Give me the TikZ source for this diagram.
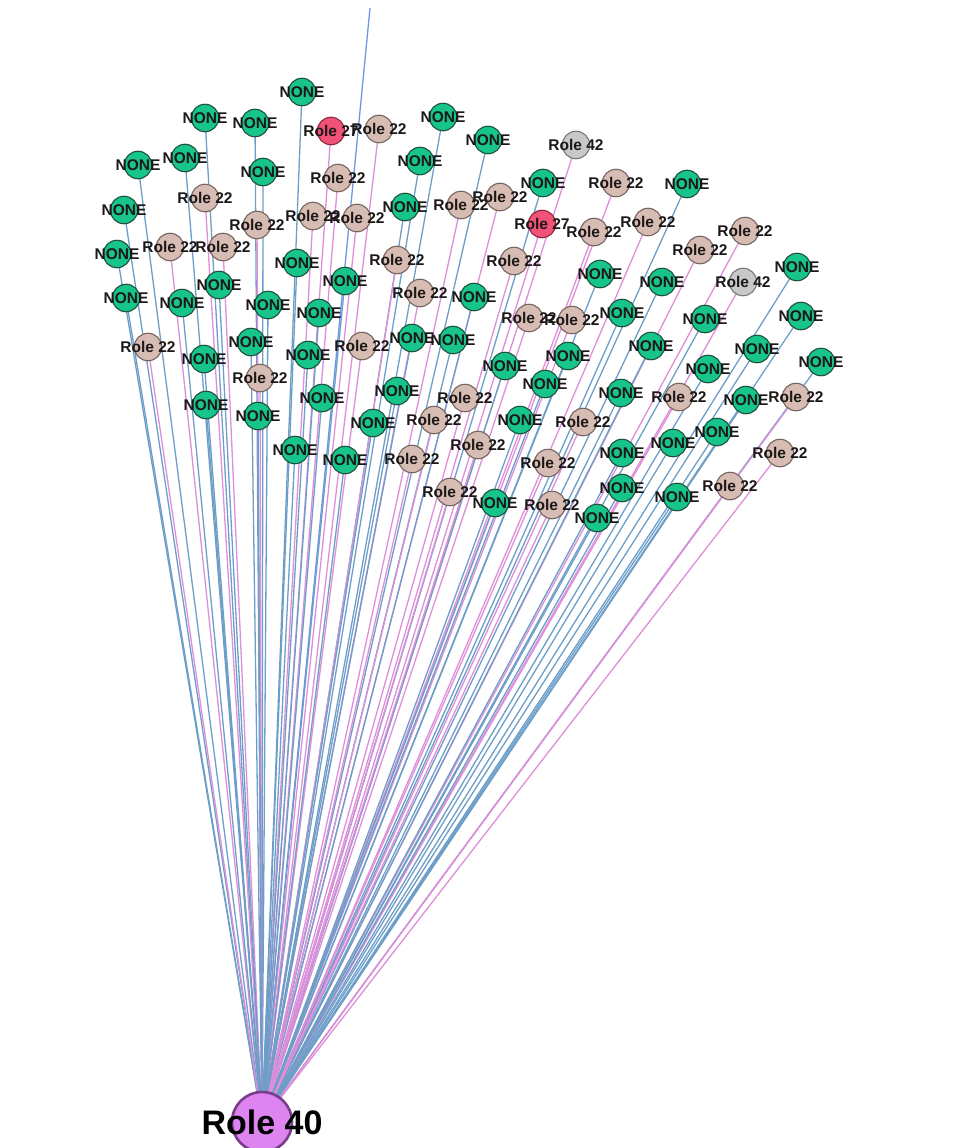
\documentclass[tikz,border=0pt]{standalone}
\usepackage{fontspec}
\setmainfont{Liberation Sans}
\pgfdeclarelayer{edges}
\pgfsetlayers{edges,main}
\definecolor{greenfill}{RGB}{22,196,140}
\definecolor{greenline}{RGB}{30,80,58}
\definecolor{beigefill}{RGB}{214,188,178}
\definecolor{beigeline}{RGB}{118,100,95}
\definecolor{redfill}{RGB}{240,82,120}
\definecolor{redline}{RGB}{140,40,62}
\definecolor{grayfill}{RGB}{200,200,200}
\definecolor{grayline}{RGB}{120,120,120}
\definecolor{hubfill}{RGB}{222,132,240}
\definecolor{hubline}{RGB}{120,62,140}
\definecolor{txt}{RGB}{28,24,24}
\definecolor{blueedge}{RGB}{108,158,200}
\definecolor{pinkedge}{RGB}{222,142,218}
\definecolor{topedge}{RGB}{110,150,230}
\begin{document}
\begin{tikzpicture}[x=1pt,y=-1pt,
  lbl/.style={font=\fontsize{15.5}{16}\selectfont\bfseries,text=txt,inner sep=0pt},
  base/.style={circle,minimum size=27.5pt,inner sep=0pt,line width=1.1pt,draw},
  nonen/.style={base,fill=greenfill,draw=greenline},
  rolen/.style={base,fill=beigefill,draw=beigeline},
  redn/.style={base,fill=redfill,draw=redline},
  grayn/.style={base,fill=grayfill,draw=grayline},
  eb/.style={draw=blueedge,line width=1.3pt},
  ep/.style={draw=pinkedge,line width=1.3pt},
  hubn/.style={circle,minimum size=60pt,inner sep=0pt,fill=hubfill,draw=hubline,line width=2.6pt},
  hublbl/.style={font=\fontsize{34}{34}\selectfont\bfseries,text=black,inner sep=0pt}]
\useasboundingbox (0,0) rectangle (955,1148);
\node[hubn,label={[hublbl]center:Role 40}] (hub) at (262,1122) {};
\coordinate (top) at (370,8);
\begin{pgfonlayer}{edges}
\draw[draw=topedge,line width=1.3pt] (hub.center) -- (top);
\end{pgfonlayer}
\foreach \i/\x/\y/\s/\e/\t in {
 1/302/92/nonen/eb/NONE, 2/205/118/nonen/eb/NONE, 3/255/123/nonen/eb/NONE,
 4/331/131/redn/ep/Role 27, 5/379/129/rolen/ep/Role 22, 6/443/117/nonen/eb/NONE,
 7/488/140/nonen/eb/NONE, 8/576/145/grayn/ep/Role 42, 9/138/165/nonen/eb/NONE,
 10/185/158/nonen/eb/NONE, 11/263/172/nonen/eb/NONE, 12/338/178/rolen/ep/Role 22,
 13/420/161/nonen/eb/NONE, 14/205/198/rolen/ep/Role 22, 15/124/210/nonen/eb/NONE,
 16/257/225/rolen/ep/Role 22, 17/313/216/rolen/ep/Role 22, 18/357/218/rolen/ep/Role 22,
 19/405/207/nonen/eb/NONE, 20/461/205/rolen/ep/Role 22, 21/500/197/rolen/ep/Role 22,
 22/543/183/nonen/eb/NONE, 23/616/183/rolen/ep/Role 22, 24/687/184/nonen/eb/NONE,
 25/542/224/redn/ep/Role 27, 26/594/232/rolen/ep/Role 22, 27/648/222/rolen/ep/Role 22,
 28/745/231/rolen/ep/Role 22, 29/700/250/rolen/ep/Role 22, 30/117/254/nonen/eb/NONE,
 31/170/247/rolen/ep/Role 22, 32/223/247/rolen/ep/Role 22, 33/297/263/nonen/eb/NONE,
 34/397/260/rolen/ep/Role 22, 35/514/261/rolen/ep/Role 22, 36/600/274/nonen/eb/NONE,
 37/662/282/nonen/eb/NONE, 38/743/282/grayn/ep/Role 42, 39/797/267/nonen/eb/NONE,
 40/126/298/nonen/eb/NONE, 41/182/303/nonen/eb/NONE, 42/219/285/nonen/eb/NONE,
 43/345/281/nonen/eb/NONE, 44/268/305/nonen/eb/NONE, 45/420/293/rolen/ep/Role 22,
 46/474/297/nonen/eb/NONE, 47/319/313/nonen/eb/NONE, 48/529/318/rolen/ep/Role 22,
 49/572/320/rolen/ep/Role 22, 50/622/313/nonen/eb/NONE, 51/705/319/nonen/eb/NONE,
 52/801/316/nonen/eb/NONE, 53/148/347/rolen/ep/Role 22, 54/251/342/nonen/eb/NONE,
 55/412/338/nonen/eb/NONE, 56/453/340/nonen/eb/NONE, 57/362/346/rolen/ep/Role 22,
 58/308/355/nonen/eb/NONE, 59/204/359/nonen/eb/NONE, 60/568/356/nonen/eb/NONE,
 61/651/346/nonen/eb/NONE, 62/757/349/nonen/eb/NONE, 63/821/362/nonen/eb/NONE,
 64/505/366/nonen/eb/NONE, 65/260/378/rolen/ep/Role 22, 66/545/384/nonen/eb/NONE,
 67/708/369/nonen/eb/NONE, 68/397/391/nonen/eb/NONE, 69/465/398/rolen/ep/Role 22,
 70/322/398/nonen/eb/NONE, 71/621/393/nonen/eb/NONE, 72/679/397/rolen/ep/Role 22,
 73/746/400/nonen/eb/NONE, 74/796/397/rolen/ep/Role 22, 75/206/405/nonen/eb/NONE,
 76/258/416/nonen/eb/NONE, 77/373/423/nonen/eb/NONE, 78/434/420/rolen/ep/Role 22,
 79/520/420/nonen/eb/NONE, 80/583/422/rolen/ep/Role 22, 81/717/432/nonen/eb/NONE,
 82/673/443/nonen/eb/NONE, 83/622/453/nonen/eb/NONE, 84/780/453/rolen/ep/Role 22,
 85/295/450/nonen/eb/NONE, 86/345/460/nonen/eb/NONE, 87/412/459/rolen/ep/Role 22,
 88/478/445/rolen/ep/Role 22, 89/548/463/rolen/ep/Role 22, 90/622/488/nonen/eb/NONE,
 91/677/497/nonen/eb/NONE, 92/730/486/rolen/ep/Role 22, 93/450/492/rolen/ep/Role 22,
 94/495/503/nonen/eb/NONE, 95/552/505/rolen/ep/Role 22, 96/597/518/nonen/eb/NONE}
{
  \node[\s,label={[lbl]center:\t}] (n\i) at (\x,\y) {};
  \begin{pgfonlayer}{edges}
  \draw[\e] (hub.center) -- (n\i.center);
  \end{pgfonlayer}
}
\end{tikzpicture}
\end{document}
